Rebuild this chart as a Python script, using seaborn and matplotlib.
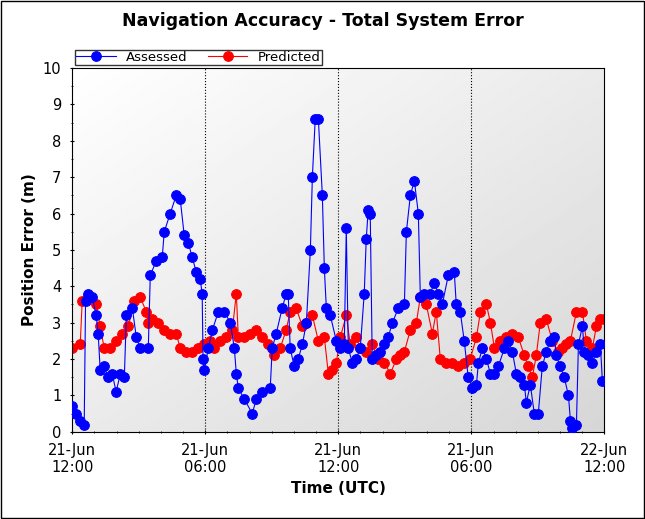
import numpy as np
import pandas as pd
import matplotlib
matplotlib.use("Agg")
import matplotlib.pyplot as plt
import seaborn as sns
from matplotlib.patches import Rectangle

# hours since 21-Jun 12:00
assessed_t = [0, 0.18, 0.36, 0.54, 0.6, 0.7, 0.9, 1.08, 1.17, 1.26, 1.44, 1.62, 1.8, 1.98, 2.17, 2.35, 2.44, 2.71, 2.89, 3.07,
              3.43, 3.52, 3.79, 4.06, 4.15, 4.42, 4.69, 4.87, 5.05, 5.23, 5.41, 5.59, 5.77, 5.86, 5.9, 5.95, 6.14, 6.32, 6.59, 6.86,
              7.13, 7.31, 7.4, 7.49, 7.76, 8.12, 8.3, 8.57, 8.93, 9.02, 9.2, 9.47, 9.65, 9.74, 9.83, 10.01, 10.19, 10.38, 10.56, 10.74,
              10.83, 10.96, 11.1, 11.28, 11.37, 11.46, 11.64, 11.91, 12.09, 12.27, 12.36, 12.45, 12.63, 12.81, 12.99, 13.17, 13.26, 13.35, 13.44, 13.53,
              13.71, 13.89, 14.07, 14.25, 14.44, 14.71, 14.98, 15.07, 15.25, 15.43, 15.61, 15.7, 15.88, 16.15, 16.33, 16.51, 16.69, 16.96, 17.23, 17.32,
              17.5, 17.68, 17.86, 18.05, 18.23, 18.32, 18.5, 18.68, 18.86, 19.04, 19.22, 19.49, 19.67, 19.85, 20.03, 20.21, 20.39, 20.48, 20.66, 20.84,
              21.02, 21.2, 21.38, 21.56, 21.74, 21.83, 22.01, 22.19, 22.38, 22.47, 22.56, 22.74, 22.83, 23.01, 23.1, 23.28, 23.46, 23.64, 23.82, 23.91]
assessed = [0.7, 0.5, 0.3, 0.2, 3.6, 3.8, 3.7, 3.2, 2.7, 1.7, 1.8, 1.5, 1.6, 1.1, 1.6, 1.5, 3.2, 3.4, 2.6, 2.3,
            2.3, 4.3, 4.7, 4.8, 5.5, 6.0, 6.5, 6.4, 5.4, 5.2, 4.8, 4.4, 4.2, 3.8, 2.0, 1.7, 2.3, 2.8, 3.3, 3.3,
            3.0, 2.3, 1.6, 1.2, 0.9, 0.5, 0.9, 1.1, 1.2, 2.3, 2.7, 3.4, 3.8, 3.8, 2.3, 1.8, 2.0, 2.4, 3.0, 5.0,
            7.0, 8.6, 8.6, 6.5, 4.5, 3.4, 3.2, 2.5, 2.3, 2.4, 5.6, 2.3, 1.9, 2.0, 2.3, 3.8, 5.3, 6.1, 6.0, 2.0,
            2.1, 2.2, 2.4, 2.6, 3.0, 3.4, 3.5, 5.5, 6.5, 6.9, 6.0, 3.7, 3.8, 3.8, 4.1, 3.8, 3.5, 4.3, 4.4, 3.5,
            3.3, 2.5, 1.5, 1.2, 1.3, 1.9, 2.3, 2.0, 1.6, 1.6, 1.8, 2.3, 2.5, 2.2, 1.6, 1.5, 1.3, 0.8, 1.3, 0.5,
            0.5, 1.8, 2.2, 2.5, 2.6, 2.1, 1.8, 1.5, 1.0, 0.3, 0.1, 0.2, 2.4, 2.9, 2.2, 2.1, 1.9, 2.2, 2.4, 1.4]

predicted_t = [0, 0.36, 0.45, 0.72, 1.08, 1.26, 1.44, 1.71, 1.98, 2.26, 2.53, 2.8, 3.07, 3.34, 3.43, 3.61, 3.88, 4.15, 4.42, 4.69,
               4.87, 5.14, 5.41, 5.68, 5.95, 6.23, 6.41, 6.68, 6.95, 7.22, 7.4, 7.49, 7.76, 8.03, 8.3, 8.57, 8.84, 9.11, 9.38, 9.65,
               9.83, 10.1, 10.38, 10.56, 10.83, 11.1, 11.37, 11.55, 11.73, 11.91, 12.09, 12.36, 12.54, 12.81, 12.99, 13.26, 13.53, 13.8, 14.07, 14.35,
               14.62, 14.8, 14.98, 15.25, 15.52, 15.7, 15.97, 16.24, 16.42, 16.6, 16.87, 17.14, 17.41, 17.68, 17.95, 18.23, 18.41, 18.68, 18.86, 19.04,
               19.31, 19.58, 19.85, 20.12, 20.39, 20.57, 20.75, 20.93, 21.11, 21.38, 21.65, 21.92, 22.1, 22.29, 22.47, 22.74, 23.01, 23.19, 23.46, 23.64,
               23.82, 24]
predicted = [2.3, 2.4, 3.6, 3.7, 3.5, 2.9, 2.3, 2.3, 2.5, 2.7, 2.9, 3.6, 3.7, 3.3, 3.0, 3.1, 3.0, 2.8, 2.7, 2.7,
             2.3, 2.2, 2.2, 2.3, 2.4, 2.5, 2.3, 2.5, 2.6, 2.8, 3.8, 2.6, 2.6, 2.7, 2.8, 2.6, 2.4, 2.1, 2.3, 2.8,
             3.3, 3.4, 2.9, 3.0, 3.2, 2.5, 2.6, 1.6, 1.7, 1.9, 2.6, 3.2, 2.4, 2.6, 2.3, 2.2, 2.4, 2.0, 1.9, 1.6,
             2.0, 2.1, 2.2, 2.8, 3.0, 3.7, 3.5, 2.7, 3.3, 2.0, 1.9, 1.9, 1.8, 1.9, 2.0, 2.6, 3.3, 3.5, 3.0, 2.3,
             2.5, 2.6, 2.7, 2.6, 2.1, 1.8, 1.5, 2.1, 3.0, 3.1, 2.5, 2.2, 2.3, 2.4, 2.5, 3.3, 3.3, 2.5, 2.3, 2.9,
             3.1, 3.1]

tick_pos = [0, 6, 12, 18, 24]
tick_labels = ["21-Jun\n12:00", "21-Jun\n06:00", "21-Jun\n12:00", "21-Jun\n06:00", "22-Jun\n12:00"]

fig = plt.figure(figsize=(6.45, 5.19), dpi=100)
fig.patches.append(Rectangle((0.002, 0.002), 0.996, 0.996, transform=fig.transFigure,
                             fill=False, edgecolor="black", linewidth=1))
ax = fig.add_axes([0.112, 0.168, 0.825, 0.701])

# light gradient background, white top-left to grey bottom-right
grad = np.linspace(0, 1, 200)
gx, gy = np.meshgrid(grad, grad)
ax.imshow(1 - 0.16 * (gx + gy) / 2, cmap="gray", vmin=0, vmax=1,
          extent=[0, 24, 0, 10], aspect="auto", zorder=0)

for t in [6, 12, 18]:
    ax.axvline(t, color="black", linestyle=":", linewidth=0.8, zorder=1)

dp = pd.DataFrame({"t": predicted_t, "v": predicted})
da = pd.DataFrame({"t": assessed_t, "v": assessed})
sns.lineplot(data=dp, x="t", y="v", ax=ax, color="red", marker="o", markersize=7,
             markeredgecolor="red", linewidth=0.8, sort=False, estimator=None, label="Predicted", zorder=2)
sns.lineplot(data=da, x="t", y="v", ax=ax, color="blue", marker="o", markersize=7,
             markeredgecolor="blue", linewidth=0.8, sort=False, estimator=None, label="Assessed", zorder=3)

ax.set_xlim(0, 24)
ax.set_ylim(0, 10)
ax.set_yticks(range(11))
ax.set_yticks(np.arange(0, 10, 0.5), minor=True)
ax.set_xticks(tick_pos)
ax.set_xticklabels(tick_labels, fontsize=10.5)
ax.set_xticks(np.arange(0, 24, 1), minor=True)
ax.tick_params(axis="y", labelsize=10.5, pad=6)
ax.tick_params(axis="x", pad=6)
ax.tick_params(which="both", direction="inout")
ax.set_xlabel("Time (UTC)", fontsize=11, fontweight="bold")
ax.set_ylabel("Position Error (m)", fontsize=11, fontweight="bold")
fig.text(0.5, 0.96, "Navigation Accuracy - Total System Error", ha="center", va="center",
         fontsize=12.5, fontweight="bold")

h, l = ax.get_legend_handles_labels()
ax.legend(h[::-1], l[::-1], ncol=2, loc="lower left", bbox_to_anchor=(0.0, 1.0),
          fontsize=9.5, frameon=True, fancybox=False, edgecolor="black", borderpad=0.1,
          handlelength=3, columnspacing=1.5, borderaxespad=0.2)

fig.savefig("out.png", dpi=100)
